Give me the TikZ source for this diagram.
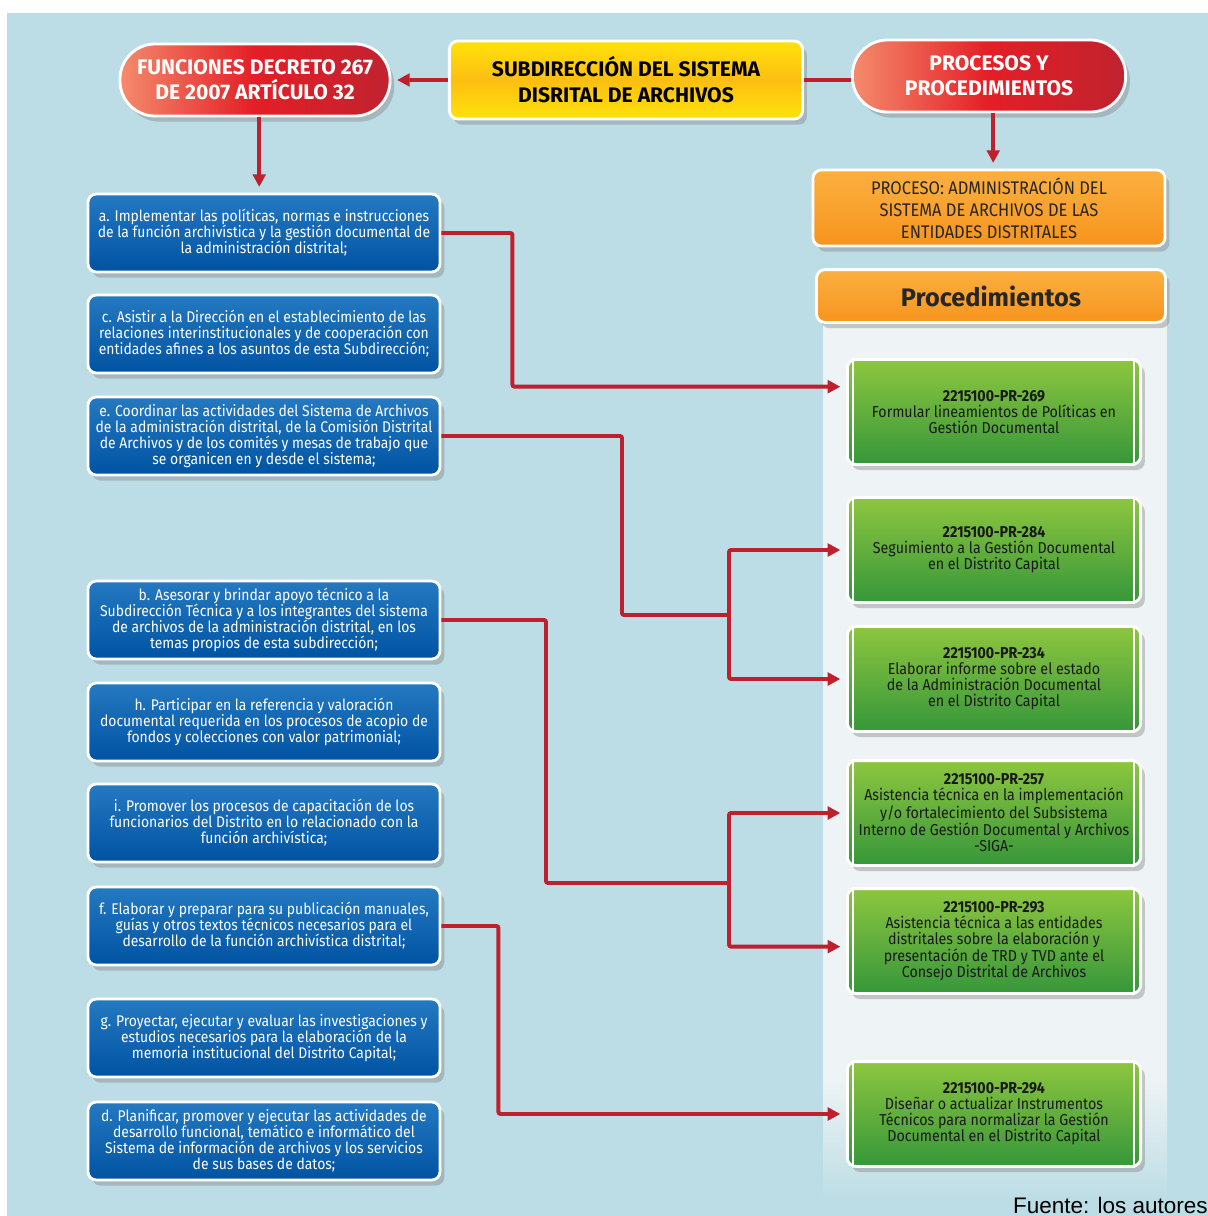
\documentclass[tikz,border=0pt]{standalone}
\usepackage{fontspec}
\setmainfont{Fira Sans}[FakeStretch=0.9]
\newfontfamily\headfont{Fira Sans}
\newfontfamily\fuentefont{Liberation Sans}
\usetikzlibrary{arrows.meta,shadows}

\definecolor{fondo}{HTML}{BCDDE5}
\definecolor{panel}{HTML}{EEF3F5}
\definecolor{azularriba}{HTML}{2479C1}
\definecolor{azulabajo}{HTML}{0053A2}
\definecolor{verdearriba}{HTML}{8DC63F}
\definecolor{verdeabajo}{HTML}{36973A}
\definecolor{rojoclaro}{HTML}{F48B6C}
\definecolor{rojo}{HTML}{E41E26}
\definecolor{rojooscuro}{HTML}{C0232F}
\definecolor{amarillo}{HTML}{FFE20A}
\definecolor{dorado}{HTML}{FDBE12}
\definecolor{naranjaarriba}{HTML}{FBB040}
\definecolor{naranjaabajo}{HTML}{F7941E}
\definecolor{rojolinea}{HTML}{C01F2E}

\begin{document}
\begin{tikzpicture}[x=0.025cm,y=-0.025cm,
    caja/.style={draw=white, line width=2pt, rounded corners=6pt, align=center, inner sep=2pt,
        drop shadow={opacity=0.4, shadow xshift=3pt, shadow yshift=-4pt}},
    funcion/.style={caja, top color=azularriba, bottom color=azulabajo, text=white,
        minimum width=8.8cm, minimum height=1.95cm, font=\fontsize{11}{11.4}\selectfont},
    procedimiento/.style={caja, top color=verdearriba, bottom color=verdeabajo, text=black!90,
        minimum width=7.33cm, minimum height=2.62cm, font=\fontsize{11.25}{11.4}\selectfont},
    pildora/.style={caja, rounded corners=0.88cm, left color=rojoclaro, right color=rojooscuro,
        middle color=rojo, text=white, minimum height=1.8cm,
        font=\headfont\bfseries\fontsize{15}{17.7}\selectfont},
    naranja/.style={caja, top color=naranjaarriba, bottom color=naranjaabajo, text=black!85},
    linea/.style={draw=rojolinea, line width=2.8pt, rounded corners=1.5pt},
    flecha/.style={linea, -{Triangle[length=9pt,width=9pt]}, shorten >=4pt}
]
    \useasboundingbox (0,0) rectangle (1208,1216);
    % fondo y columna de procedimientos
    \fill[fondo] (7,13) rectangle (1208,1216);
    \fill[panel] (823,300) rectangle (1167,1080);
    \fill[top color=panel, bottom color=fondo] (823,1080) rectangle (1167,1200);

    % encabezados
    \node[pildora, minimum width=6.75cm] (fun) at (255,80)
        {FUNCIONES DECRETO 267\\DE 2007 ARTÍCULO 32};
    \node[caja, top color=amarillo, bottom color=amarillo, middle color=dorado,
        minimum width=8.83cm, minimum height=1.95cm,
        font=\headfont\bfseries\fontsize{15}{18.4}\selectfont] (sub) at (626,80)
        {SUBDIRECCIÓN DEL SISTEMA\\DISRITAL DE ARCHIVOS};
    \node[pildora, minimum width=6.83cm] (pro) at (989,76)
        {PROCESOS Y\\PROCEDIMIENTOS};
    \node[naranja, minimum width=8.8cm, minimum height=1.9cm,
        font=\fontsize{13}{15.6}\selectfont] (proc) at (989,208)
        {PROCESO: ADMINISTRACIÓN DEL\\SISTEMA DE ARCHIVOS DE LAS\\ENTIDADES DISTRITALES};
    \node[naranja, minimum width=8.72cm, minimum height=1.32cm,
        font=\headfont\bfseries\fontsize{18}{20}\selectfont] (pms) at (991,296)
        {Procedimientos};

    % funciones (columna izquierda)
    \node[funcion] (fa) at (264,233)
        {a. Implementar las políticas, normas e instrucciones\\de la función archivística y la gestión documental de\\la administración distrital;};
    \node[funcion] (fc) at (264,334)
        {c. Asistir a la Dirección en el establecimiento de las\\relaciones interinstitucionales y de cooperación con\\entidades afines a los asuntos de esta Subdirección;};
    \node[funcion] (fe) at (264,436)
        {e. Coordinar las actividades del Sistema de Archivos\\de la administración distrital, de la Comisión Distrital\\de Archivos y de los comités y mesas de trabajo que\\se organicen en y desde el sistema;};
    \node[funcion] (fb) at (264,620)
        {b. Asesorar y brindar apoyo técnico a la\\Subdirección Técnica y a los integrantes del sistema\\de archivos de la administración distrital, en los\\temas propios de esta subdirección;};
    \node[funcion] (fh) at (264,722)
        {h. Participar en la referencia y valoración\\documental requerida en los procesos de acopio de\\fondos y colecciones con valor patrimonial;};
    \node[funcion] (fi) at (264,823)
        {i. Promover los procesos de capacitación de los\\funcionarios del Distrito en lo relacionado con la\\función archivística;};
    \node[funcion] (ff) at (264,926)
        {f. Elaborar y preparar para su publicación manuales,\\guías y otros textos técnicos necesarios para el\\desarrollo de la función archivística distrital;};
    \node[funcion] (fg) at (264,1038)
        {g. Proyectar, ejecutar y evaluar las investigaciones y\\estudios necesarios para la elaboración de la\\memoria institucional del Distrito Capital;};
    \node[funcion] (fd) at (264,1141)
        {d. Planificar, promover y ejecutar las actividades de\\desarrollo funcional, temático e informático del\\Sistema de información de archivos y los servicios\\de sus bases de datos;};

    % procedimientos (columna derecha)
    \node[procedimiento] (p269) at (994,412)
        {\textbf{2215100-PR-269}\\Formular lineamientos de Políticas en\\Gestión Documental};
    \node[procedimiento] (p284) at (994,550)
        {\textbf{2215100-PR-284}\\Seguimiento a la Gestión Documental\\en el Distrito Capital};
    \node[procedimiento] (p234) at (994,679)
        {\textbf{2215100-PR-234}\\Elaborar informe sobre el estado\\de la Administración Documental\\en el Distrito Capital};
    \node[procedimiento] (p257) at (994,813)
        {\textbf{2215100-PR-257}\\Asistencia técnica en la implementación\\y/o fortalecimiento del Subsistema\\Interno de Gestión Documental y Archivos\\-SIGA-};
    \node[procedimiento] (p293) at (994,941)
        {\textbf{2215100-PR-293}\\Asistencia técnica a las entidades\\distritales sobre la elaboración y\\presentación de TRD y TVD ante el\\Consejo Distrital de Archivos};
    \node[procedimiento] (p294) at (994,1114)
        {\textbf{2215100-PR-294}\\Diseñar o actualizar Instrumentos\\Técnicos para normalizar la Gestión\\Documental en el Distrito Capital};
    \foreach \n in {p269,p284,p234,p257,p293,p294} {
        \draw[white, line width=1.3pt] ([xshift=5pt]\n.north west) -- ([xshift=5pt]\n.south west);
        \draw[white, line width=1.3pt] ([xshift=-6pt]\n.north east) -- ([xshift=-6pt]\n.south east);
    }

    % conectores
    \draw[flecha] (sub.west) -- (sub.west -| fun.east);
    \draw[linea] (sub.east) -- (sub.east -| pro.west);
    \draw[flecha] ([xshift=3pt]fun.south) -- ([xshift=3pt]fun.south |- fa.north);
    \draw[flecha] ([xshift=3pt]pro.south) -- ([xshift=3pt]pro.south |- proc.north);

    \draw[flecha] (fa.east) -- ++(71,0) |- ([yshift=18pt]p269.west);

    \coordinate (k1) at (622,615);
    \coordinate (j1) at (729,615);
    \draw[linea] (fe.east) -| (k1) -- (j1);
    \draw[flecha] (j1) |- (p284.west);
    \draw[flecha] (j1) |- (p234.west);

    \coordinate (k2) at (546,883);
    \coordinate (j2) at (729,883);
    \draw[linea] (fb.east) -| (k2) -- (j2);
    \draw[flecha] (j2) |- (p257.west);
    \draw[flecha] (j2) |- ([yshift=-4pt]p293.west);

    \draw[flecha] (ff.east) -- ++(57,0) |- (p294.west);

    % fuente
    \node[anchor=base east, inner sep=0pt, font=\fuentefont\fontsize{16}{18}\selectfont]
        (fuente) at (1208,1213) {Fuente: los autores};
\end{tikzpicture}
\end{document}
